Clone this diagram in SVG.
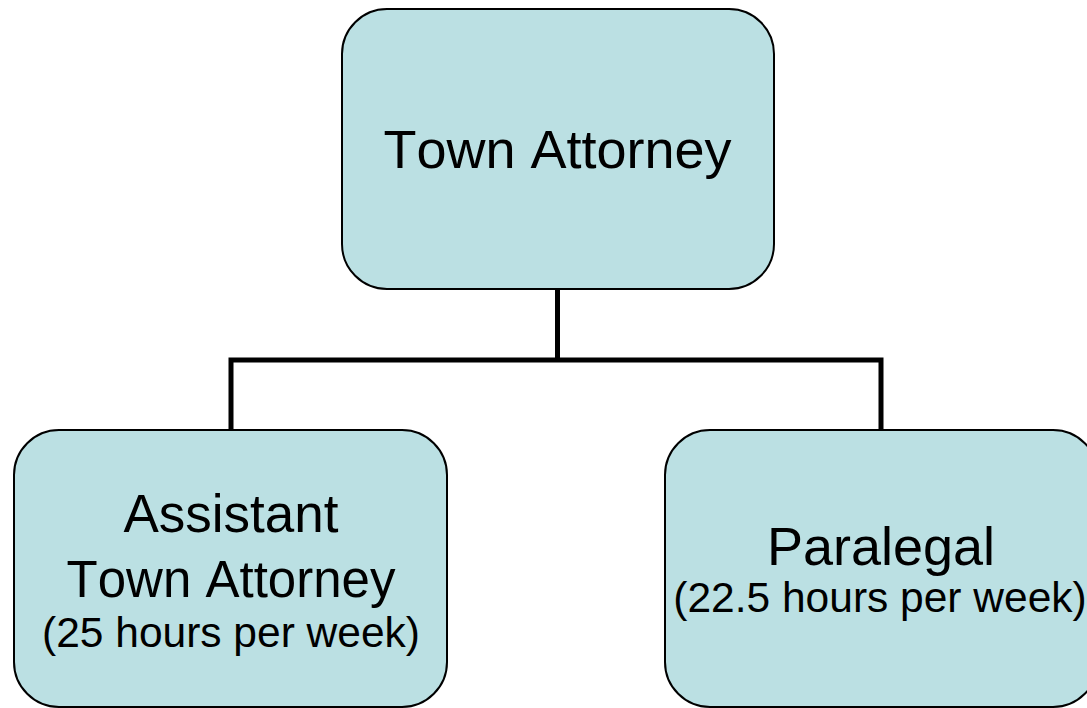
<svg xmlns="http://www.w3.org/2000/svg" width="1087" height="708" viewBox="0 0 1087 708">
<style>
.box{fill:#BBE0E3;stroke:#000;stroke-width:2}
.conn{fill:none;stroke:#000;stroke-width:5;stroke-linecap:butt;stroke-linejoin:miter}
text{font-family:"Liberation Sans",Arial,sans-serif;fill:#000;text-anchor:middle;font-kerning:none}
.big{font-size:54px}
.mid{font-size:51px}
.small{font-size:42.5px}
</style>
<rect width="1087" height="708" fill="#fff"/>
<g id="connectors">
<path class="conn" d="M557.5,289 V360"/>
<path class="conn" d="M231,431 V360 H881 V431"/>
</g>
<g id="town-attorney">
<rect class="box" x="342" y="9" width="432" height="280" rx="45" ry="45"/>
<text class="big" x="557.5" y="167.5">Town Attorney</text>
</g>
<g id="assistant-town-attorney">
<rect class="box" x="14" y="430" width="433" height="277" rx="45" ry="45"/>
<text class="mid" x="231" y="531.7" style="font-size:53px">Assistant</text>
<text class="mid" x="231" y="596.7">Town Attorney</text>
<text class="small" x="231" y="646.7">(25 hours per week)</text>
</g>
<g id="paralegal">
<rect class="box" x="665" y="430" width="433" height="277" rx="45" ry="45"/>
<text class="big" x="881" y="565">Paralegal</text>
<text class="small" x="880" y="611.7">(22.5 hours per week)</text>
</g>
</svg>
